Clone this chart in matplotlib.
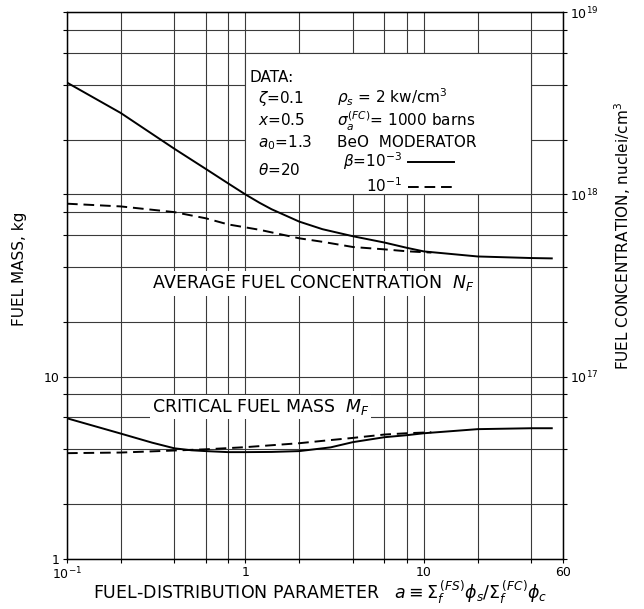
"""Fuel mass and fuel concentration versus fuel-distribution parameter."""

import matplotlib
matplotlib.use("Agg")
import matplotlib.pyplot as plt
from matplotlib.patches import Rectangle
from matplotlib.ticker import LogLocator, NullFormatter

# average fuel concentration N_F (nuclei/cm^3), beta = 1e-3 (solid)
a_nf_solid = [0.1, 0.2, 0.4, 0.6, 0.8, 1.0, 1.2, 1.4, 2.0, 2.7, 4.0, 6.0, 8.0, 10, 20, 40, 52]
nf_solid = [4.11e18, 2.8e18, 1.78e18, 1.38e18, 1.15e18, 1.0e18, 9.0e17, 8.3e17,
            7.1e17, 6.45e17, 5.9e17, 5.45e17, 5.1e17, 4.87e17, 4.57e17, 4.48e17, 4.46e17]
# beta = 1e-1 (dashed)
a_nf_dashed = [0.1, 0.2, 0.4, 0.6, 0.8, 1.0, 1.2, 2.0, 2.7, 4.0, 6.0, 8.0, 11]
nf_dashed = [8.9e17, 8.6e17, 8.0e17, 7.4e17, 6.85e17, 6.6e17, 6.4e17, 5.75e17, 5.5e17,
             5.15e17, 5.0e17, 4.88e17, 4.8e17]

# critical fuel mass M_F (kg)
a_mf_solid = [0.1, 0.2, 0.3, 0.4, 0.5, 0.6, 0.8, 1.0, 1.4, 2.0, 3.0, 4.0, 6.0, 8.0, 10, 20, 40, 52]
mf_solid = [5.92, 4.88, 4.35, 4.05, 3.95, 3.91, 3.86, 3.86, 3.87, 3.91, 4.1, 4.38, 4.66,
            4.78, 4.90, 5.16, 5.22, 5.22]
a_mf_dashed = [0.1, 0.2, 0.4, 0.6, 1.0, 2.0, 2.7, 4.0, 6.0, 8.0, 11]
mf_dashed = [3.81, 3.84, 3.94, 4.0, 4.11, 4.32, 4.45, 4.62, 4.82, 4.90, 4.96]

x_ticks = [0.1, 1, 10, 60]
x_ticklabels = ["10$^{-1}$", "1", "10", "60"]
left_ticks = [1, 10, 100, 1000]
left_ticklabels = ["1", "10", "", ""]
right_ticks = [1e16, 1e17, 1e18, 1e19]
right_ticklabels = ["", "10$^{17}$", "10$^{18}$", "10$^{19}$"]

GRID = "#3a3a3a"
FS = 11

plt.rcParams["font.family"] = ["DejaVu Sans"]
plt.rcParams["mathtext.fontset"] = "dejavusans"

fig = plt.figure(figsize=(6.44, 6.09), dpi=100)
ax = fig.add_axes([0.104, 0.082, 0.770, 0.898])
ax.set_xscale("log")
ax.set_yscale("log")
ax.set_xlim(0.1, 60)
ax.set_ylim(1, 1000)

ax.set_xticks(x_ticks)
ax.set_xticklabels(x_ticklabels, fontsize=9)
ax.set_yticks(left_ticks)
ax.set_yticklabels(left_ticklabels, fontsize=9)
ax.xaxis.set_minor_locator(LogLocator(base=10, subs=[2, 4, 6, 8]))
ax.yaxis.set_minor_locator(LogLocator(base=10, subs=[2, 4, 6, 8]))
ax.xaxis.set_minor_formatter(NullFormatter())
ax.yaxis.set_minor_formatter(NullFormatter())
ax.tick_params(which="both", direction="out", length=3, width=0.8, right=False, pad=2)
ax.set_axisbelow(True)
ax.grid(True, which="both", color=GRID, linewidth=0.8)
for spine in ax.spines.values():
    spine.set_linewidth(1.0)

# white cut-out behind the data block
ax.add_patch(Rectangle((1, 100), 39, 500, facecolor="white", edgecolor=GRID,
                       linewidth=0.8, zorder=1))

ax2 = ax.twinx()
ax2.set_yscale("log")
ax2.set_ylim(1e16, 1e19)
ax2.set_yticks(right_ticks)
ax2.set_yticklabels(right_ticklabels, fontsize=9)
ax2.yaxis.set_minor_locator(LogLocator(base=10, subs=[2, 4, 6, 8]))
ax2.yaxis.set_minor_formatter(NullFormatter())
ax2.tick_params(which="both", direction="out", length=3, width=0.8, pad=2)

line_kw = dict(color="black", linewidth=1.4)
ax.plot(a_mf_solid, mf_solid, "-", zorder=3, **line_kw)
ax.plot(a_mf_dashed, mf_dashed, "--", dashes=(5.5, 3), zorder=3, **line_kw)
solid, = ax2.plot(a_nf_solid, nf_solid, "-", **line_kw)
dashed, = ax2.plot(a_nf_dashed, nf_dashed, "--", dashes=(5.5, 3), **line_kw)

box = dict(facecolor="white", edgecolor="none", pad=1.5)
ax.text(0.3, 32.5, r"AVERAGE FUEL CONCENTRATION  $N_F$", fontsize=12.5,
        ha="left", va="center", bbox=box, zorder=2)
ax.text(0.3, 6.85, r"CRITICAL FUEL MASS  $M_F$", fontsize=12.5,
        ha="left", va="center", bbox=box, zorder=2)

tx = ax.transAxes
ax.text(0.369, 0.881, "DATA:", fontsize=FS, transform=tx, va="center", zorder=4)
for y, s in [(0.843, r"$\zeta$=0.1"), (0.803, r"$x$=0.5"),
             (0.762, r"$a_0$=1.3"), (0.711, r"$\theta$=20")]:
    ax.text(0.385, y, s, fontsize=FS, transform=tx, va="center", zorder=4)
for y, s in [(0.845, r"$\rho_s$ = 2 kw/cm$^3$"),
             (0.801, r"$\sigma_a^{(FC)}$= 1000 barns"),
             (0.762, "BeO  MODERATOR")]:
    ax.text(0.544, y, s, fontsize=FS, transform=tx, va="center", zorder=4)

ax2.legend([solid, dashed], [r"$\beta$=10$^{-3}$", r"10$^{-1}$"], loc="center right",
           bbox_to_anchor=(0.78, 0.706), bbox_transform=ax2.transAxes, frameon=False,
           markerfirst=False, fontsize=FS, handlelength=3.0, handletextpad=0.4,
           labelspacing=0.3, borderpad=0, borderaxespad=0)

ax.set_xlabel(r"FUEL-DISTRIBUTION PARAMETER   $a \equiv \Sigma_f^{\,(FS)}\phi_s/\Sigma_f^{\,(FC)}\phi_c$",
              fontsize=12.5)
ax.xaxis.set_label_coords(0.51, -0.035)
ax.set_ylabel("FUEL MASS, kg", fontsize=11)
ax.yaxis.set_label_coords(-0.08, 0.53)
ax2.set_ylabel("FUEL CONCENTRATION, nuclei/cm$^3$", fontsize=11)
ax2.yaxis.set_label_coords(1.10, 0.59)

fig.savefig("out.png", dpi=100, facecolor="white")
